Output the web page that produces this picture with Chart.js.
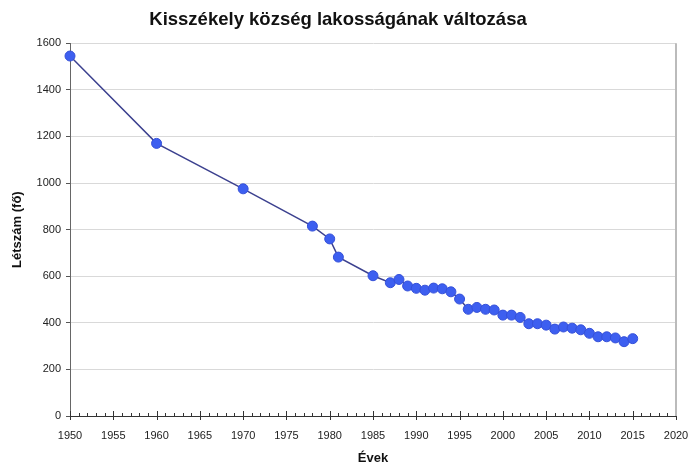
<!DOCTYPE html>
<html>
<head>
<meta charset="utf-8">
<script src="https://cdn.jsdelivr.net/npm/chart.js@4"></script>
<style>
  html, body { margin: 0; padding: 0; background: #fff; }
  #wrap { width: 692px; height: 466px; }
</style>
</head>
<body>
<div id="wrap"><canvas id="chart" width="692" height="466"></canvas></div>
<script>
// Kisszékely population by year
const years = [1950, 1960, 1970, 1978, 1980, 1981, 1985, 1987, 1988, 1989, 1990, 1991, 1992, 1993, 1994,
  1995, 1996, 1997, 1998, 1999, 2000, 2001, 2002, 2003, 2004, 2005, 2006, 2007, 2008, 2009, 2010,
  2011, 2012, 2013, 2014, 2015];
const population = [1545, 1170, 975, 815, 760, 682, 602, 572, 586, 558, 548, 540, 549, 546, 533,
  502, 458, 466, 458, 455, 433, 433, 423, 396, 396, 390, 373, 382, 377, 370, 355,
  340, 340, 335, 319, 332];

const X_MIN = 1950, X_MAX = 2020, X_STEP = 5;
const Y_MIN = 0, Y_MAX = 1600, Y_STEP = 200;

const FONT = "'Liberation Sans', Arial, sans-serif";

// small yearly ticks above the axis, long ticks crossing it every 5 years
const xTickMarks = {
  id: 'xTickMarks',
  afterDraw(chart) {
    const sx = chart.scales.x;
    const ctx = chart.ctx;
    const y0 = chart.chartArea.bottom;
    ctx.save();
    ctx.strokeStyle = '#333';
    ctx.lineWidth = 1;
    ctx.beginPath();
    for (let yr = X_MIN; yr <= X_MAX; yr++) {
      const px = Math.round(sx.getPixelForValue(yr)) + 0.5;
      if (yr % X_STEP === 0) {
        ctx.moveTo(px, y0 - 5);
        ctx.lineTo(px, y0 + 4);
      } else {
        ctx.moveTo(px, y0 - 3);
        ctx.lineTo(px, y0);
      }
    }
    ctx.stroke();
    // right frame
    ctx.strokeStyle = '#bbb';
    ctx.lineWidth = 2;
    ctx.beginPath();
    ctx.moveTo(chart.chartArea.right, chart.chartArea.top);
    ctx.lineTo(chart.chartArea.right, y0);
    ctx.stroke();
    ctx.restore();
  }
};

new Chart(document.getElementById('chart').getContext('2d'), {
  type: 'line',
  data: {
    datasets: [{
      data: years.map((y, i) => ({ x: y, y: population[i] })),
      borderColor: '#3c418f',
      borderWidth: 1.5,
      backgroundColor: '#3d5ff0',
      pointBackgroundColor: '#3d5ff0',
      pointBorderColor: '#3550d8',
      pointBorderWidth: 1,
      pointRadius: 5,
      tension: 0,
      fill: false,
      clip: false
    }]
  },
  plugins: [xTickMarks],
  options: {
    responsive: false,
    animation: false,
    layout: { padding: { top: 0, right: 16, bottom: 0, left: 0 } },
    plugins: {
      legend: { display: false },
      tooltip: { enabled: false },
      title: {
        display: true,
        text: 'Kisszékely község lakosságának változása',
        color: '#111',
        font: { family: FONT, size: 18.5, weight: 'bold' },
        padding: { top: 9, bottom: 12 }
      }
    },
    scales: {
      x: {
        type: 'linear',
        min: X_MIN, max: X_MAX,
        afterFit: s => { s.height = 50; s.paddingRight = 0; },
        ticks: {
          stepSize: X_STEP,
          color: '#222',
          padding: 13,
          maxRotation: 0,
          autoSkip: false,
          callback: v => String(v),
          font: { family: FONT, size: 11 }
        },
        grid: { display: false, drawTicks: false },
        border: { display: true, color: '#333', width: 1 },
        title: {
          display: true,
          text: 'Évek',
          color: '#111',
          font: { family: FONT, size: 13, weight: 'bold' },
          padding: { top: 2, bottom: 0 }
        }
      },
      y: {
        min: Y_MIN, max: Y_MAX,
        afterFit: s => { s.width = 70; },
        ticks: {
          stepSize: Y_STEP,
          color: '#222',
          padding: 5,
          callback: v => String(v),
          font: { family: FONT, size: 11 }
        },
        grid: {
          color: '#d9d9d9',
          lineWidth: 1,
          tickLength: 4,
          tickColor: '#555'
        },
        border: { display: true, color: '#666', width: 1 },
        title: {
          display: true,
          text: 'Létszám (fő)',
          color: '#111',
          font: { family: FONT, size: 13, weight: 'bold' },
          padding: { top: 10, bottom: 4 }
        }
      }
    }
  }
});
</script>
</body>
</html>
